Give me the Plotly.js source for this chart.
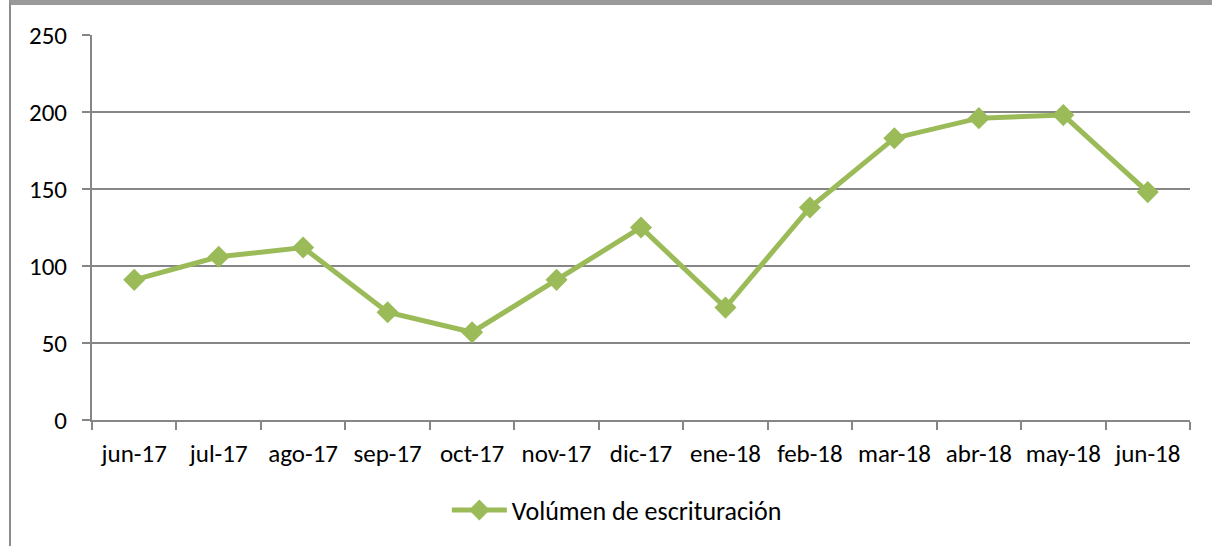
<!DOCTYPE html>
<html>
<head>
<meta charset="utf-8">
<script src="https://cdn.plot.ly/plotly-3.0.1.min.js"></script>
<style>
html,body{margin:0;padding:0;background:#fff;}
#wrap{position:relative;width:1212px;height:546px;overflow:hidden;}
#frame{position:absolute;left:9px;top:0;width:1203px;height:546px;border-top:5px solid #9a9a9a;border-left:2px solid #8c8c8c;box-sizing:border-box;pointer-events:none;}
#chart{position:absolute;left:0;top:0;width:1212px;height:546px;}
</style>
</head>
<body>
<div id="wrap">
<div id="chart"></div>
<div id="frame"></div>
</div>
<script>
const categories = ["jun-17","jul-17","ago-17","sep-17","oct-17","nov-17","dic-17","ene-18","feb-18","mar-18","abr-18","may-18","jun-18"];
const volumen = [91, 106, 112, 70, 57, 91, 125, 73, 138, 183, 196, 198, 148];
const seriesName = "Volúmen de escrituración";
const yTicks = [0, 50, 100, 150, 200, 250];

const font = "Carlito, Calibri, 'Open Sans', 'Noto Sans', sans-serif";

Plotly.newPlot("chart", [{
  type: "scatter",
  mode: "lines+markers",
  x: categories,
  y: volumen,
  name: seriesName,
  line: {color: "#9BBB59", width: 5},
  marker: {symbol: "diamond", size: 17, color: "#9BBB59"}
}], {
  width: 1212, height: 546,
  margin: {l: 92, r: 22, t: 35, b: 126},
  paper_bgcolor: "#fff", plot_bgcolor: "#fff",
  font: {family: font, size: 25, color: "#000"},
  showlegend: true,
  legend: {orientation: "h", x: 0.478, xanchor: "center", y: -0.234, yanchor: "middle", font: {family: font, size: 26, color: "#000"}, itemwidth: 55},
  xaxis: {
    type: "category",
    range: [-0.5, categories.length - 0.5],
    tickangle: 0,
    tickfont: {family: font, size: 25, color: "#000"},
    showgrid: false,
    showline: true, linecolor: "#868686", linewidth: 2,
    ticks: "outside", ticklen: 8, tickcolor: "#868686", tickwidth: 2,
    tickson: "boundaries",
    ticklabelstandoff: 10,
    zeroline: false,
    fixedrange: true
  },
  yaxis: {
    range: [0, 250],
    tickvals: yTicks,
    showgrid: true, gridcolor: "#868686", gridwidth: 2,
    showline: true, linecolor: "#868686", linewidth: 2,
    ticks: "outside", ticklen: 8, tickcolor: "#868686", tickwidth: 2,
    ticklabelstandoff: 10,
    zeroline: false,
    fixedrange: true
  }
}, {staticPlot: true, displayModeBar: false});
</script>
</body>
</html>
